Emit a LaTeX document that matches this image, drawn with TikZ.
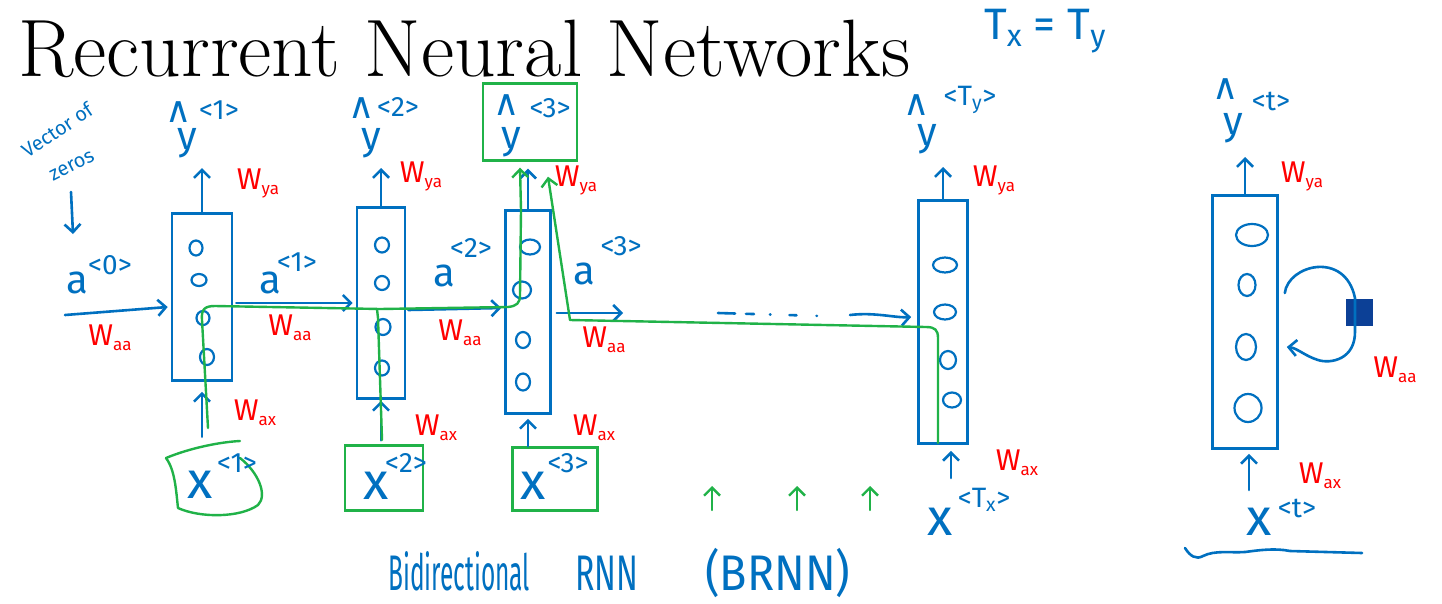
\documentclass[tikz,border=0pt]{standalone}
\usepackage{fontspec}
\newfontfamily\hand{Fira Sans}
\newfontfamily\symf{DejaVu Sans}
\usetikzlibrary{arrows.meta,shapes.geometric,calc}
\definecolor{penblue}{RGB}{0,112,192}
\definecolor{penred}{RGB}{255,0,0}
\definecolor{pengreen}{RGB}{32,178,72}
\definecolor{inkfill}{RGB}{12,64,150}
\newcommand\fsz[1]{\fontsize{#1}{#1}\selectfont}
\newcommand\wsub[1]{W\raisebox{-5pt}{\fsz{17}#1}}

\begin{document}
\begin{tikzpicture}[x=1pt,y=-1pt,
  pen/.style={draw=penblue,line width=2.6pt,line cap=round,line join=round},
  gpen/.style={draw=pengreen,line width=2.4pt,line cap=round,line join=round},
  barb/.style={-{Straight Barb[length=8pt,width=16pt]}},
  cell/.style={draw=penblue,line width=2.6pt,rectangle,inner sep=0pt},
  neuron/.style={draw=penblue,line width=2.2pt,ellipse,inner sep=0pt},
  inbox/.style={draw=pengreen,line width=2.4pt,rectangle,inner sep=0pt},
  lbl/.style={text=penblue,font=\hand\fsz{40},inner sep=0pt},
  xlbl/.style={text=penblue,font=\hand\fsz{52},inner sep=0pt},
  hatl/.style={text=penblue,font=\symf\fsz{36},inner sep=0pt},
  supl/.style={text=penblue,font=\hand\fsz{28},inner sep=0pt},
  wt/.style={text=penred,font=\hand\fsz{30},inner sep=0pt},
  note/.style={text=penblue,font=\hand\fsz{20},inner sep=0pt},
  capt/.style={text=penblue,font=\hand\fsz{50},anchor=base west,inner sep=0pt},
]
\useasboundingbox (0,0) rectangle (1442,603);
\fill[white] (0,0) rectangle (1442,603);

% heading and side note
\node[anchor=base west,inner sep=0pt] (title) at (18,76)
  {\resizebox{892pt}{!}{\fsz{72}Recurrent Neural Networks}};
\node[text=penblue,font=\hand\fsz{44},inner sep=0pt] (txty) at (1045,31)
  {T\textsubscript{x} = T\textsubscript{y}};

% initial activation note
\node[note,rotate=34] (vec) at (57,130) {Vector of};
\node[note,rotate=27] (zer) at (72,166) {zeros};
\coordinate (z0a) at (71,192);
\coordinate (z0b) at (73,234);
\draw[pen,barb] (z0a) -- (z0b);

% recurrent cells
\node[cell,minimum width=60pt,minimum height=167pt] (c1) at (202,297) {};
\node[cell,minimum width=48pt,minimum height=191pt] (c2) at (381,303) {};
\node[cell,minimum width=45pt,minimum height=203pt] (c3) at (528,312) {};
\node[cell,minimum width=49pt,minimum height=243pt] (cT) at (943,322) {};
\node[cell,minimum width=65pt,minimum height=253pt] (ct) at (1245,322) {};

% hidden units
\node[neuron,minimum width=13pt,minimum height=15pt] (u11) at (196,248) {};
\node[neuron,minimum width=15pt,minimum height=12pt] (u12) at (199,280) {};
\node[neuron,minimum width=13pt,minimum height=14pt] (u13) at (203,318) {};
\node[neuron,minimum width=14pt,minimum height=16pt] (u14) at (207,357) {};
\node[neuron,minimum width=14pt,minimum height=15pt] (u21) at (382,245) {};
\node[neuron,minimum width=14pt,minimum height=14pt] (u22) at (382,283) {};
\node[neuron,minimum width=15pt,minimum height=16pt] (u23) at (383,327) {};
\node[neuron,minimum width=14pt,minimum height=15pt] (u24) at (382,368) {};
\node[neuron,minimum width=20pt,minimum height=15pt] (u31) at (530,247) {};
\node[neuron,minimum width=18pt,minimum height=17pt] (u32) at (522,290) {};
\node[neuron,minimum width=14pt,minimum height=16pt] (u33) at (523,340) {};
\node[neuron,minimum width=14pt,minimum height=17pt] (u34) at (523,382) {};
\node[neuron,minimum width=24pt,minimum height=15pt] (uT1) at (945,265) {};
\node[neuron,minimum width=22pt,minimum height=15pt] (uT2) at (945,312) {};
\node[neuron,minimum width=16pt,minimum height=18pt] (uT3) at (948,360) {};
\node[neuron,minimum width=18pt,minimum height=15pt] (uT4) at (952,400) {};
\node[neuron,minimum width=32pt,minimum height=22pt] (ut1) at (1252,235) {};
\node[neuron,minimum width=17pt,minimum height=22pt] (ut2) at (1247,285) {};
\node[neuron,minimum width=20pt,minimum height=26pt] (ut3) at (1246,347) {};
\node[neuron,minimum width=27pt,minimum height=28pt] (ut4) at (1248,408) {};

% predictions
\node[hatl] (h1) at (179,112) {∧};
\node[lbl] (y1) at (187,143) {y};
\node[supl] (s1) at (219,110) {<1>};
\node[hatl] (h2) at (362,108) {∧};
\node[lbl] (y2) at (371,143) {y};
\node[supl] (s2) at (398,107) {<2>};
\node[inbox,minimum width=94pt,minimum height=77pt] (ybox) at (530,122) {};
\node[hatl] (h3) at (507,105) {∧};
\node[lbl] (y3) at (511,142) {y};
\node[supl] (s3) at (550,108) {<3>};
\node[hatl] (hT) at (917,105) {∧};
\node[lbl] (yT) at (927,139) {y};
\node[supl] (sT) at (970,100) {<T\textsubscript{y}>};
\node[hatl] (ht) at (1226,89) {∧};
\node[lbl] (yt) at (1233,128) {y};
\node[supl] (st) at (1271,101) {<t>};

\draw[pen,barb,shorten >=10pt] (c1.north) -- (c1.north |- y1.south);
\draw[pen,barb,shorten >=10pt] (c2.north) -- (c2.north |- y2.south);
\draw[pen,barb,shorten >=7pt] (c3.north) -- (c3.north |- ybox.south);
\draw[pen,barb,shorten >=13pt] (cT.north) -- (cT.north |- yT.south);
\draw[pen,barb,shorten >=14pt] (ct.north) -- (ct.north |- yt.south);

\node[wt] (wya1) at (258,183) {\wsub{ya}};
\node[wt] (wya2) at (421,176) {\wsub{ya}};
\node[wt] (wya3) at (576,180) {\wsub{ya}};
\node[wt] (wyaT) at (994,180) {\wsub{ya}};
\node[wt] (wyat) at (1302,176) {\wsub{ya}};

% activations passed along the chain
\coordinate (a0s) at (65,315);
\draw[pen,barb] (a0s) -- ($(c1.west)+(-3,10)$);
\node[lbl] (a0) at (77,283) {a};
\node[supl] (a0sup) at (110,265) {<0>};
\draw[pen,barb] ($(c1.east)+(3,6)$) -- ($(c2.west)+(-3,0)$);
\node[lbl] (a1) at (270,283) {a};
\node[supl] (a1sup) at (297,262) {<1>};
\draw[pen,barb] ($(c2.east)+(2,7)$) -- ($(c3.west)+(-3,-4)$);
\node[lbl] (a2) at (444,276) {a};
\node[supl] (a2sup) at (471,248) {<2>};
\coordinate (a3e) at (623,313);
\draw[pen,barb] ($(c3.east)+(5,1)$) -- (a3e);
\node[lbl] (a3) at (584,274) {a};
\node[supl] (a3sup) at (621,246) {<3>};
\coordinate (d1) at (718,313);
\coordinate (d2) at (822,316);
\draw[pen,dash pattern=on 17pt off 11pt on 8pt off 16pt on 0.5pt off 19pt on 7pt off 20pt on 0.5pt off 20pt] (d1) -- (d2);
\coordinate (d3) at (850,315);
\draw[pen,barb] (d3) .. controls (875,312) and (895,318) .. ($(cT.west)+(-6,-5)$);

\node[wt] (waa0) at (110,338) {\wsub{aa}};
\node[wt] (waa1) at (290,328) {\wsub{aa}};
\node[wt] (waa2) at (460,333) {\wsub{aa}};
\node[wt] (waa3) at (604,340) {\wsub{aa}};

% inputs
\node[minimum width=98pt,minimum height=74pt,inner sep=0pt] (x1box) at (214,478) {};
\draw[gpen] (166,458) .. controls (190,448) and (220,442) .. (240,441);
\draw[gpen] (166,458) .. controls (175,470) and (176,490) .. (178,508)
  .. controls (200,518) and (240,518) .. (258,505)
  .. controls (268,495) and (258,472) .. (240,458);
\node[inbox,minimum width=78pt,minimum height=65pt] (x2box) at (384,478) {};
\node[inbox,minimum width=85pt,minimum height=63pt] (x3box) at (555,479) {};
\node[xlbl] (x1) at (200,485) {x};
\node[supl] (x1sup) at (237,463) {<1>};
\node[xlbl] (x2) at (376,486) {x};
\node[supl] (x2sup) at (406,463) {<2>};
\node[xlbl] (x3) at (533,486) {x};
\node[supl] (x3sup) at (568,463) {<3>};
\node[xlbl] (xT) at (940,522) {x};
\node[supl] (xTsup) at (984,500) {<T\textsubscript{x}>};
\node[xlbl] (xt) at (1259,522) {x};
\node[supl] (xtsup) at (1297,508) {<t>};

\draw[pen,barb,shorten <=4pt,shorten >=10pt] (x1box.north -| c1.south) -- (c1.south);
\draw[pen,barb,shorten <=4pt,shorten >=1pt] (x2box.north -| c2.south) -- (c2.south);
\draw[pen,barb,shorten >=4pt] (x3box.north -| c3.south) -- (c3.south);
\coordinate (xTa) at (951,478);
\draw[pen,barb,shorten >=6pt] (xTa) -- (xTa |- cT.south);
\coordinate (xta) at (1249,490);
\draw[pen,barb,shorten >=4pt] (xta) -- (xta |- ct.south);

\node[wt] (wax1) at (255,413) {\wsub{ax}};
\node[wt] (wax2) at (436,428) {\wsub{ax}};
\node[wt] (wax3) at (594,428) {\wsub{ax}};
\node[wt] (waxT) at (1017,463) {\wsub{ax}};
\node[wt] (waxt) at (1320,476) {\wsub{ax}};

% information reaching the third prediction
\draw[gpen,barb] (208,428) -- (202,320) .. controls (201,309) and (205,306) .. (215,306)
  -- (380,309) -- (508,307) .. controls (517,306) and (520,303) .. (520,295)
  -- (521,210) -- ($(ybox.south)+(-10,6)$);
\draw[gpen] (382,440) -- (378,318) -- (377,309);
\draw[gpen,barb] (938,443) -- (938,338) .. controls (938,330) and (935,327) .. (926,327)
  -- (570,320) -- ($(ybox.south)+(18,15)$);

% remaining time steps
\coordinate (g1a) at (712,510); \coordinate (g1b) at (712,486);
\coordinate (g2a) at (797,510); \coordinate (g2b) at (797,486);
\coordinate (g3a) at (870,510); \coordinate (g3b) at (870,486);
\draw[gpen,barb] (g1a) -- (g1b);
\draw[gpen,barb] (g2a) -- (g2b);
\draw[gpen,barb] (g3a) -- (g3b);

% folded form with its recurrent loop
\node[fill=inkfill,draw=inkfill,minimum size=26pt,inner sep=0pt] (wsq) at (1359,312) {};
\draw[pen,barb] ($(ct.east)+(6,-29)$) .. controls (1288,265) and (1345,250) .. (1355,298)
  -- (1355,330) .. controls (1356,360) and (1330,364) .. (1318,360)
  .. controls (1305,356) and (1297,348) .. ($(ct.east)+(8,25)$);
\node[wt] (waat) at (1395,370) {\wsub{aa}};
\draw[pen] (1185,548) .. controls (1190,556) and (1196,560) .. (1203,556)
  .. controls (1215,550) and (1230,553) .. (1245,552)
  .. controls (1260,550) and (1275,548) .. (1290,551) -- (1362,553);

% caption
\node[capt] (cap1) at (388,590) {\scalebox{0.49}[1]{Bidirectional}};
\node[capt] (cap2) at (575,590) {\scalebox{0.64}[1]{RNN}};
\node[capt] (cap3) at (705,590) {\scalebox{0.9}[1]{(BRNN)}};
\end{tikzpicture}
\end{document}
